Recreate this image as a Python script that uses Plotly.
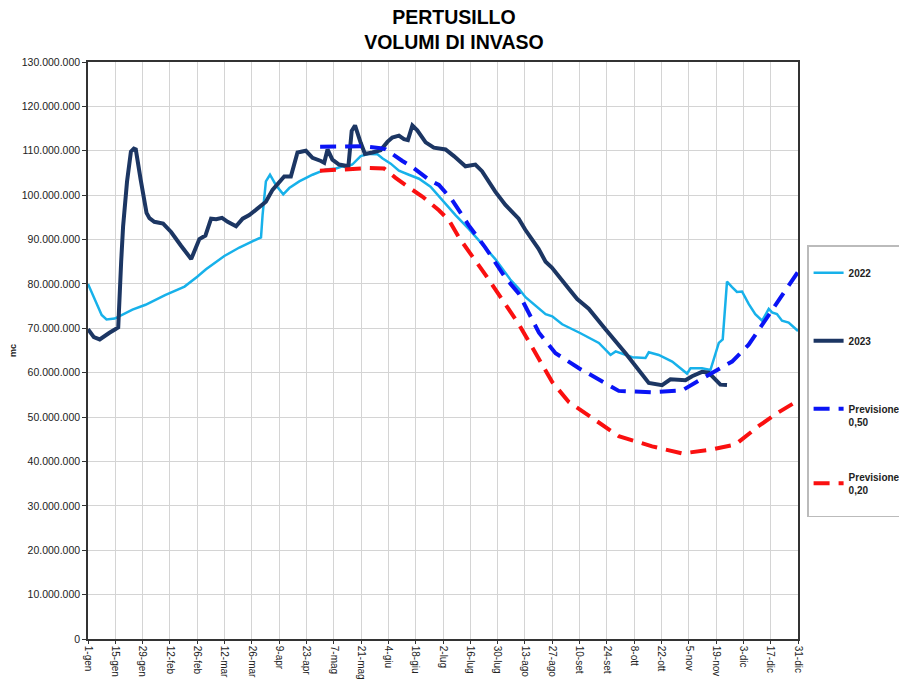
import plotly.graph_objects as go

# Day-of-year (0 = 1-gen) and volumes in millions of m3
tick_days = list(range(0, 365, 14))
tick_labels = ["1-gen", "15-gen", "29-gen", "12-feb", "26-feb", "12-mar", "26-mar", "9-apr",
               "23-apr", "7-mag", "21-mag", "4-giu", "18-giu", "2-lug", "16-lug", "30-lug",
               "13-ago", "27-ago", "10-set", "24-set", "8-ott", "22-ott", "5-nov", "19-nov",
               "3-dic", "17-dic", "31-dic"]

days_2022 = [0, 4, 7, 9.5, 13.7, 22.8, 29.5, 39.5, 49.5, 56, 60.5, 69.9, 77.6, 88.7, 89.5, 91.2,
             93.3, 96.3, 100.1, 103.2, 108.3, 115.1, 121.9, 127.1, 130.5, 132.1, 135.5, 139.8,
             144.1, 148.4, 150.9, 155.2, 159.4, 164.5, 169.7, 175.6, 181.6, 188.4, 195.2, 202,
             208.8, 216.5, 220.9, 224.3, 234.6, 238, 243.1, 252, 261.9, 267.9, 270.5, 279,
             285.8, 287.5, 292.6, 299.5, 307.1, 308.9, 314.8, 319.1, 320.8, 323.4, 325.4,
             327.6, 330.2, 332.7, 335.3, 338.7, 342.1, 345.6, 349, 350.7, 353.2, 355.8, 359.2, 364]
vol_2022 = [80.0, 76.0, 73.0, 72.0, 72.2, 74.2, 75.3, 77.5, 79.4, 81.6, 83.3, 86.3, 88.2, 90.5, 95.5,
            103.1, 104.6, 102.3, 100.2, 101.6, 103.1, 104.6, 105.8, 106.0, 106.5, 106.3, 106.9,
            108.8, 109.3, 109.2, 108.3, 107.1, 105.5, 104.6, 103.7, 101.9, 98.9, 95.5, 92.4, 89.0,
            85.6, 81.0, 78.9, 77.0, 73.2, 72.7, 70.9, 69.0, 66.7, 64.0, 64.8, 63.5, 63.3, 64.6,
            64.0, 62.5, 59.8, 61.0, 61.0, 60.6, 62.9, 66.7, 67.5, 80.5, 79.3, 78.2, 78.3, 75.5,
            73.2, 71.7, 74.4, 73.6, 73.2, 71.7, 71.3, 69.4]

days_2023 = [0, 3, 6, 9, 11, 14, 15.5, 17, 18, 20, 22, 23.5, 24.5, 27, 30, 31.5, 34, 38.5, 42.6,
             47.7, 52.9, 57.1, 60.2, 63.1, 65.7, 68.7, 71.6, 75.9, 79.3, 82.7, 86.1, 91.2, 94.6,
             98, 100.6, 104, 107.4, 111.7, 115.1, 119.4, 121.1, 122.8, 125.3, 128.7, 133.5, 135.2,
             136.9, 139.8, 142, 145.8, 150, 153.5, 156, 159.4, 162, 164, 166.3, 168.8, 173.1,
             177.3, 183.3, 187.6, 193.5, 198.6, 202, 208.8, 214, 220.8, 224.2, 231, 234.6, 237.8,
             243.8, 246.5, 250.8, 256.7, 265.3, 275.6, 287.5, 294.3, 298.6, 306.3, 309.7, 314.8,
             318.2, 321.7, 324.2, 327.6]
vol_2023 = [69.8, 68.0, 67.5, 68.5, 69.0, 69.8, 70.2, 85.0, 93.0, 103.0, 109.8, 110.5, 110.3, 103.5,
            96.0, 94.8, 94.0, 93.6, 91.7, 88.6, 85.6, 90.1, 90.9, 94.7, 94.6, 94.9, 94.0, 93.0,
            94.7, 95.5, 96.6, 98.5, 101.2, 103.1, 104.2, 104.2, 109.6, 110.0, 108.4, 107.7, 107.3,
            110.3, 108.0, 106.9, 106.5, 114.5, 115.7, 111.8, 109.3, 109.6, 110.1, 112.0, 113.0,
            113.4, 112.6, 112.4, 115.7, 114.6, 111.9, 110.7, 110.3, 108.8, 106.5, 106.9, 105.4,
            100.8, 97.8, 94.7, 92.2, 87.9, 85.0, 83.7, 80.2, 78.9, 76.6, 74.4, 69.8, 64.4, 57.7,
            57.2, 58.5, 58.3, 59.2, 60.2, 60.0, 58.3, 57.3, 57.2]

days_p50 = [119, 141, 150, 152.6, 161.2, 166.3, 174.8, 179.9, 186.7, 195.2, 203.7, 214, 220.9,
            231.2, 239.7, 251.7, 265.3, 272.1, 289.2, 304.6, 316.5, 330.2, 338.7, 347.3, 355.8, 364]
vol_p50 = [110.9, 111.0, 110.6, 110.3, 107.7, 106.3, 103.5, 102.3, 98.9, 93.2, 88.2, 81.4, 77.8,
           69.0, 64.4, 61.0, 57.6, 55.9, 55.6, 56.0, 59.1, 62.5, 66.3, 71.7, 77.4, 82.7]

days_p20 = [118.9, 144, 151.8, 157.7, 166.3, 171.4, 179.9, 185, 190.1, 200.3, 203.7, 220.9, 229.5,
            238, 246.5, 260.2, 272.1, 289.2, 304.6, 319.9, 331.9, 343.9, 354.1, 364]
vol_p20 = [105.5, 106.1, 106.0, 103.9, 101.2, 99.7, 96.6, 94.4, 90.5, 84.4, 82.1, 70.9, 64.4, 57.9,
           53.4, 49.2, 45.7, 43.4, 41.8, 42.7, 43.8, 48.0, 51.1, 53.7]

y_ticks = [i * 10_000_000 for i in range(14)]

def mc(vals):
    return [v * 1e6 for v in vals]

fig = go.Figure()
fig.add_trace(go.Scatter(x=days_2022, y=mc(vol_2022), mode="lines", name=" <br>2022<br> ",
                         legendgroup="a", line=dict(color="#17B1EA", width=2.5)))
fig.add_trace(go.Scatter(x=days_2023, y=mc(vol_2023), mode="lines", name=" <br>2023<br> ",
                         legendgroup="b", line=dict(color="#1C3663", width=4)))
fig.add_trace(go.Scatter(x=days_p50, y=mc(vol_p50), mode="lines", name=" <br>Previsione D<br>0,50",
                         legendgroup="c", line=dict(color="#0A14F5", width=4, dash="16px,9px")))
fig.add_trace(go.Scatter(x=days_p20, y=mc(vol_p20), mode="lines", name=" <br>Previsione D<br>0,20<br> ",
                         legendgroup="d", line=dict(color="#FA1010", width=4, dash="16px,9px")))

fig.update_layout(
    width=899, height=679,
    margin=dict(l=80, r=109, t=54, b=48, autoexpand=False),
    paper_bgcolor="white", plot_bgcolor="white",
    separators=",.",
    font=dict(family="Liberation Sans, Arial, sans-serif", color="#222222"),
    title=dict(text="<b>PERTUSILLO<br>VOLUMI DI INVASO</b>", x=0.496, xanchor="center",
               y=0.977, yanchor="top", font=dict(size=19.5, color="black")),
    showlegend=True,
    legend=dict(x=1.0128, xanchor="left", y=0.6826, yanchor="top",
                bordercolor="#bbbbbb", borderwidth=1.5, bgcolor="white",
                font=dict(size=10, color="#222222", family="Liberation Sans, Arial", weight="bold"),
                tracegroupgap=26, itemwidth=30, traceorder="grouped"),
    xaxis=dict(range=[0, 364], tickmode="array", tickvals=tick_days, ticktext=tick_labels,
               tickangle=90, tickfont=dict(size=10), showgrid=True, gridcolor="#d4d4d4",
               gridwidth=1, showline=True, linecolor="#333333", linewidth=1.5, mirror=True,
               ticks="outside", ticklen=3, tickcolor="#333333", zeroline=False),
    yaxis=dict(range=[0, 130_000_000], tickmode="array", tickvals=y_ticks, tickformat=",.0f",
               tickfont=dict(size=10.5), showgrid=True, gridcolor="#d4d4d4", gridwidth=1,
               showline=True, linecolor="#333333", linewidth=1.5, mirror=True,
               ticks="outside", ticklen=4, tickcolor="#333333", zeroline=False,
               title=dict(text="<b>mc</b>", font=dict(size=9), standoff=6)),
)

fig.write_html("out.html")
